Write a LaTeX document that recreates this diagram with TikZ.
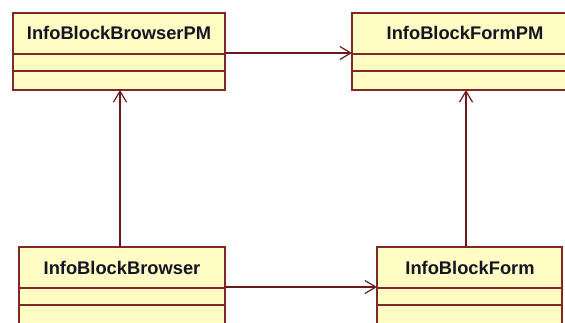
\documentclass[tikz,border=0pt]{standalone}
\usepackage{fontspec}
\setmainfont{Liberation Sans}
\usetikzlibrary{arrows.meta}
\definecolor{classfill}{RGB}{255,252,196}
\definecolor{classline}{RGB}{128,40,40}
\definecolor{linkline}{RGB}{105,26,26}
\definecolor{classtext}{RGB}{20,20,35}
\tikzset{
  x=1pt, y=-1pt,
  classbox/.style={draw=classline, fill=classfill, line width=1.3pt},
  classname/.style={text=classtext, font=\fontsize{18.3}{20}\selectfont\bfseries, inner sep=0pt},
  divider/.style={draw=classline, line width=1.3pt},
  assoc/.style={draw=linkline, line width=1.3pt, -{Straight Barb[length=11pt,width=13pt,line width=1.2pt]}}
}
\begin{document}
\begin{tikzpicture}
\useasboundingbox (0,0) rectangle (565,322);
\clip (0,0) rectangle (565,322);
\fill[white] (0,0) rectangle (565,322);

% InfoBlockBrowserPM
\path[classbox] (13,13) rectangle (225,90);
\draw[divider] (13,54) -- (225,54) (13,71) -- (225,71);
\node[classname] (bpm) at (119,33) {InfoBlockBrowserPM};
\coordinate (bpmE) at (225,53);
\coordinate (bpmS) at (120,90);

% InfoBlockFormPM
\path[classbox] (352,13) rectangle (580,90);
\draw[divider] (352,54) -- (580,54) (352,71) -- (580,71);
\node[classname] (fpm) at (465,33) {InfoBlockFormPM};
\coordinate (fpmW) at (352,53);
\coordinate (fpmS) at (466,90);

% InfoBlockBrowser
\path[classbox] (19,247) rectangle (225,340);
\draw[divider] (19,288) -- (225,288) (19,305) -- (225,305);
\node[classname] (b) at (122,268) {InfoBlockBrowser};
\coordinate (bE) at (225,287);
\coordinate (bN) at (120,247);

% InfoBlockForm
\path[classbox] (377,247) rectangle (562,340);
\draw[divider] (377,288) -- (562,288) (377,305) -- (562,305);
\node[classname] (f) at (470,268) {InfoBlockForm};
\coordinate (fW) at (377,287);
\coordinate (fN) at (466,247);

% associations
\draw[assoc] (bpmE) -- (fpmW);
\draw[assoc] (bE) -- (fW);
\draw[assoc] (bN) -- (bpmS);
\draw[assoc] (fN) -- (fpmS);
\end{tikzpicture}
\end{document}
